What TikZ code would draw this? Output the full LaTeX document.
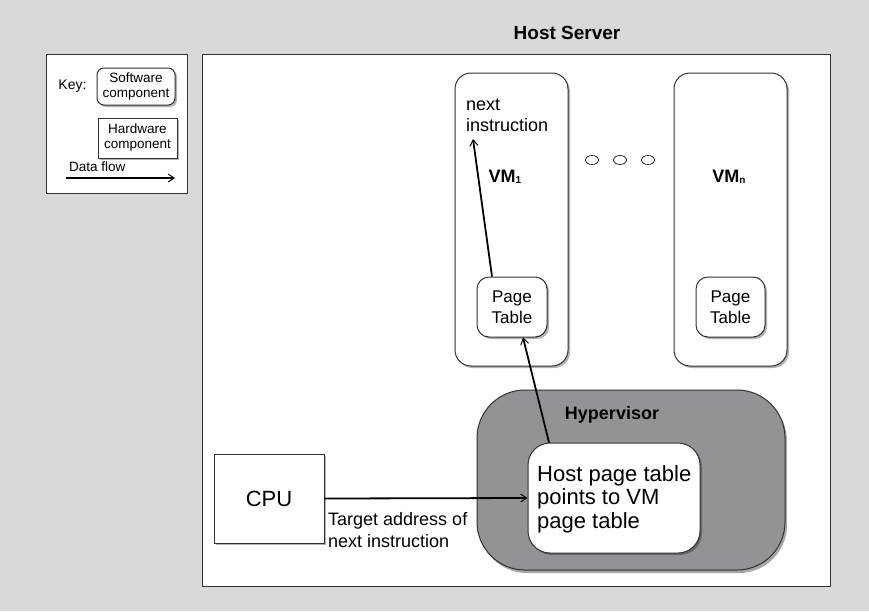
\documentclass[tikz,border=0pt]{standalone}
\usepackage{fontspec}
\setmainfont{Liberation Sans}
\usetikzlibrary{arrows.meta,shadows,shapes.geometric}
\definecolor{bggray}{RGB}{216,217,219}
\definecolor{hvgray}{RGB}{146,147,151}
\definecolor{edge}{RGB}{50,50,52}
\newcommand{\vmsub}[1]{\raisebox{-1.5pt}{\fontsize{10}{10}\selectfont #1}}
\tikzset{
  x=1pt, y=-1pt,
  shadowed/.style={drop shadow={shadow xshift=2pt, shadow yshift=-2pt, opacity=0.3, fill=black}},
  hwbox/.style={draw=edge, line width=1pt, fill=white, shadowed, inner sep=0pt},
  swbox/.style={draw=edge, line width=1pt, fill=white, rounded corners=#1, shadowed, inner sep=0pt},
  swbox/.default=12pt,
  flow/.style={draw=black, line width=1.8pt, -{Straight Barb[length=6pt,width=8pt,line width=1pt]}},
  dot/.style={draw=edge, line width=0.8pt, ellipse, fill=white, minimum width=13pt, minimum height=9pt, inner sep=0pt},
}
\begin{document}
\begin{tikzpicture}
% background
\fill[bggray] (0,0) rectangle (869,611);
\useasboundingbox (0,0) rectangle (869,611);

% title
\node[font=\bfseries\fontsize{19}{22}\selectfont] (title) at (567,33) {Host Server};

% host server frame
\node[draw=edge, line width=1pt, fill=white, minimum width=628pt, minimum height=532pt, inner sep=0pt] (host) at (516,320) {};

% key
\node[draw=edge, line width=1pt, fill=white, minimum width=141pt, minimum height=139pt, inner sep=0pt] (key) at (116.5,123.5) {};
\node[font=\fontsize{14}{16}\selectfont] (keylbl) at (72.5,86) {Key:};
\node[swbox=7pt, minimum width=78pt, minimum height=37pt, align=center, font=\fontsize{13.5}{15}\selectfont] (keysw) at (136,86.5) {Software\\component};
\node[hwbox, minimum width=79pt, minimum height=40pt, align=center, font=\fontsize{13.5}{15}\selectfont] (keyhw) at (137.5,138) {Hardware\\component};
\node[font=\fontsize{13.5}{15}\selectfont, anchor=west, inner sep=0pt] (keydf) at (69,167) {Data flow};
\coordinate (dfa) at (66,178);
\coordinate (dfb) at (175,178);
\draw[flow, line width=1.6pt] (dfa) -- (dfb);

% VM boxes
\node[swbox=16pt, minimum width=113pt, minimum height=293pt] (vm1) at (511.5,219.5) {};
\node[swbox=16pt, minimum width=113pt, minimum height=293pt] (vmn) at (730.5,219.5) {};

\node[font=\bfseries\fontsize{18}{20}\selectfont] (vm1lbl) at (505,177) {VM\vmsub{1}};
\node[font=\bfseries\fontsize{18}{20}\selectfont] (vmnlbl) at (729,177) {VM\vmsub{n}};

\node[font=\fontsize{18}{21}\selectfont, align=left, anchor=west, inner sep=0pt] (nexti) at (466,115) {next\\instruction};
\coordinate (nextend) at (473,139);

% dots
\node[dot] (d1) at (592,160) {};
\node[dot] (d2) at (620,160) {};
\node[dot] (d3) at (648,160) {};

% page tables
\node[swbox=12pt, minimum width=70pt, minimum height=60pt, align=center, font=\fontsize{17}{21.5}\selectfont] (pt1) at (512,307) {Page\\Table};
\node[swbox=12pt, minimum width=69pt, minimum height=60pt, align=center, font=\fontsize{17}{21.5}\selectfont] (ptn) at (730.5,307) {Page\\Table};

% hypervisor
\node[draw=edge, line width=1pt, fill=hvgray, rounded corners=48pt, minimum width=308pt, minimum height=180pt, inner sep=0pt,
      drop shadow={shadow xshift=2pt, shadow yshift=-3pt, opacity=0.35, fill=black}] (hyp) at (631,480) {};
\node[font=\bfseries\fontsize{18}{20}\selectfont] (hyplbl) at (612,415) {Hypervisor};

\node[swbox=22pt, minimum width=172pt, minimum height=110pt] (hpt) at (614,498) {};
\node[font=\fontsize{22}{23.5}\selectfont, align=left, anchor=west, inner sep=0pt] (hpttext) at (537,499) {Host page table\\points to VM\\page table};

% CPU
\node[hwbox, minimum width=110pt, minimum height=89pt, font=\fontsize{22}{24}\selectfont] (cpu) at (269,498.5) {CPU};
\node[font=\fontsize{18}{21.5}\selectfont, align=left, anchor=west, inner sep=0pt] (tgt) at (328,530) {Target address of\\next instruction};

% data flows
\draw[flow] (cpu.east) -- (hpt.west);
\draw[flow] ([xshift=-65pt]hpt.north) -- ([xshift=11pt]pt1.south);
\draw[flow] ([xshift=-20pt]pt1.north) -- (nextend);
\end{tikzpicture}
\end{document}
